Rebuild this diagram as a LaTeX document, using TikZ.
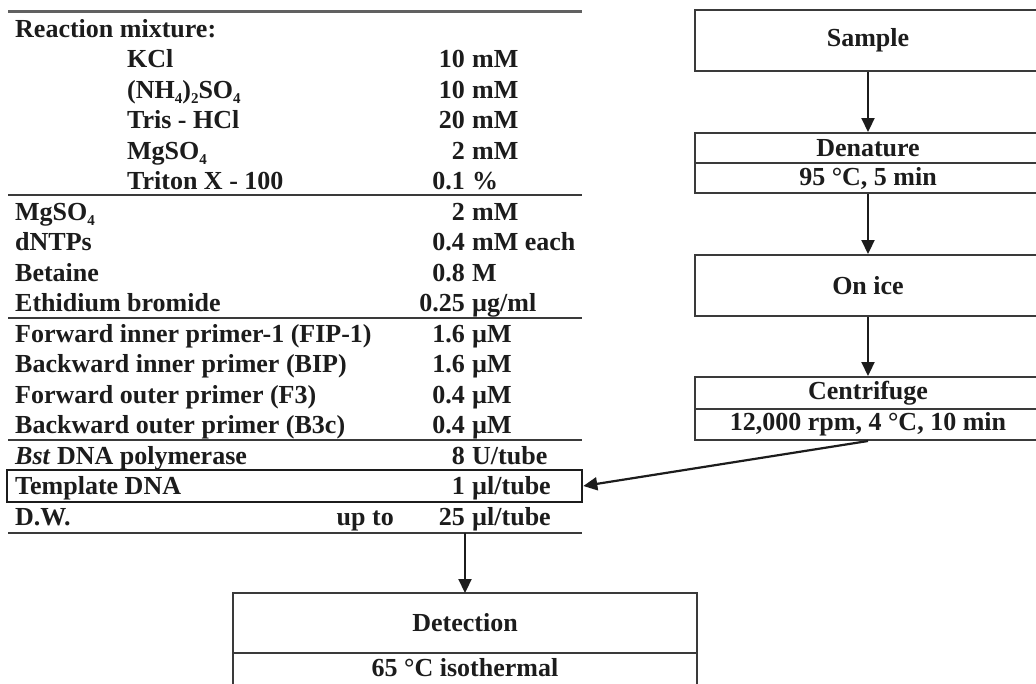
\documentclass[tikz,border=0pt]{standalone}
\usepackage{fontspec}
\setmainfont{Liberation Serif}
\usetikzlibrary{arrows.meta}
\definecolor{ink}{HTML}{1C1C1C}
\definecolor{rulec}{HTML}{3A3A3A}
\newcommand{\sbs}[1]{\raisebox{-0.45ex}{\fontsize{15}{15}\selectfont #1}}
\newcommand{\trow}[6]{%
  \node[nm] (n#1) at (#3, {37+30.5*#2}) {#4};
  \node[num] (q#1) at (465, {37+30.5*#2}) {#5};
  \node[unit] (u#1) at (472, {37+30.5*#2}) {#6};}
\begin{document}
\begin{tikzpicture}[x=1pt,y=-1pt,
  txt/.style={inner sep=0pt, font=\fontsize{26}{30}\selectfont\bfseries, text=ink},
  nm/.style={txt, anchor=base west},
  num/.style={txt, anchor=base east},
  unit/.style={txt, anchor=base west},
  hrule/.style={draw=rulec, line width=2pt},
  box/.style={draw=rulec, line width=2pt, minimum width=346pt, inner sep=0pt, txt},
  dbox/.style={draw=rulec, line width=2pt, minimum width=464pt, inner sep=0pt, outer sep=0pt, txt},
  arr/.style={draw=ink, line width=2.2pt, -{Triangle[length=14pt,width=13pt]}},
]
\clip (0,0) rectangle (1036,683);
\fill[white] (0,0) rectangle (1036,683);

% table rules
\draw[hrule, line width=3pt, draw=rulec!80] (8,11) -- (582,11);
\draw[hrule] (8,195) -- (582,195);
\draw[hrule] (8,317.5) -- (582,317.5);
\draw[hrule] (8,439.5) -- (582,439.5);
\draw[hrule] (8,532.5) -- (582,532.5);

% template box
\node[draw=ink, line width=2.6pt, minimum width=575pt, minimum height=32pt, inner sep=0pt] (tbox) at (294.5,486) {};

% table text
\node[nm] (n0) at (15,37) {Reaction mixture:};
\trow{1}{1}{127}{KCl}{10}{mM}
\trow{2}{2}{127}{(NH\sbs{4})\sbs{2}SO\sbs{4}}{10}{mM}
\trow{3}{3}{127}{Tris - HCl}{20}{mM}
\trow{4}{4}{127}{MgSO\sbs{4}}{2}{mM}
\trow{5}{5}{127}{Triton X - 100}{0.1}{\%}
\trow{6}{6}{15}{MgSO\sbs{4}}{2}{mM}
\trow{7}{7}{15}{dNTPs}{0.4}{mM each}
\trow{8}{8}{15}{Betaine}{0.8}{M}
\trow{9}{9}{15}{Ethidium bromide}{0.25}{µg/ml}
\trow{10}{10}{15}{Forward inner primer-1 (FIP-1)}{1.6}{µM}
\trow{11}{11}{15}{Backward inner primer (BIP)}{1.6}{µM}
\trow{12}{12}{15}{Forward outer primer (F3)}{0.4}{µM}
\trow{13}{13}{15}{Backward outer primer (B3c)}{0.4}{µM}
\trow{14}{14}{15}{\textit{Bst} DNA polymerase}{8}{U/tube}
\trow{15}{15}{15}{Template DNA}{1}{µl/tube}
\trow{16}{16}{15}{D.W.}{25}{µl/tube}
\node[num] (upto) at (394,525) {up to};

% right flow
\node[box, minimum height=61pt] (sample) at (868,40.5) {Sample};
\node[box, minimum height=30pt] (den1) at (868,148) {Denature};
\node[box, minimum height=30pt] (den2) at (868,178) {95 °C, 5 min};
\node[box, minimum height=61pt] (ice) at (868,285.5) {On ice};
\node[box, minimum height=32pt] (cen1) at (868,393) {Centrifuge};
\node[box, minimum height=31pt] (cen2) at (868,424.5) {12,000 rpm, 4 °C, 10 min};

% detection (lower cell runs past the bottom edge)
\node[dbox, minimum height=60pt] (det1) at (465,623) {Detection};
\node[txt] (det2) at (465,668) {65 °C isothermal};
\draw[rulec, line width=2pt] (det1.south west) -- ++(0,70);
\draw[rulec, line width=2pt] (det1.south east) -- ++(0,70);

% arrows
\coordinate (dw) at (465,532.5);
\draw[arr] (sample) -- (den1);
\draw[arr] (den2) -- (ice);
\draw[arr] (ice) -- (cen1);
\draw[arr] (cen2.south) -- (tbox.east);
\draw[arr] (dw) -- (det1);
\end{tikzpicture}
\end{document}
